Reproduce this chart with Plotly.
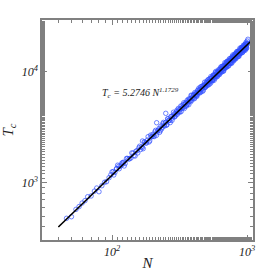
import plotly.graph_objects as go

# Sparse low-N points
N_low = [46, 50, 54, 57, 60, 63, 66, 70, 74, 77, 80, 84, 88, 91, 95, 98]
Tc_low = [478, 494, 575, 610, 656, 690, 748, 760, 840, 896, 830, 940, 1010, 1021, 1110, 1180]

# Dense region, series A
N_dense = list(range(100, 1001, 5))
Tc_dense = [
    1252, 1239, 1439, 1406, 1520, 1490, 1655, 1646, 1856, 1754,
    1920, 1858, 2132, 2105, 2027, 2323, 2283, 2600, 2384, 2586,
    2716, 2606, 2961, 2814, 2978, 2845, 3231, 3154, 3495, 3245,
    3494, 3331, 3766, 3668, 3487, 3945, 3834, 4315, 3914, 4202,
    4369, 4153, 4675, 4404, 4624, 4382, 4936, 4782, 5258, 4848,
    5185, 4911, 5518, 5342, 5048, 5679, 5488, 6141, 5542, 5918,
    6123, 5792, 6488, 6085, 6360, 6002, 6732, 6495, 7116, 6536,
    6963, 6570, 7355, 7095, 6682, 7493, 7217, 8050, 7242, 7709,
    7955, 7501, 8380, 7837, 8169, 7689, 8602, 8278, 9046, 8289,
    8809, 8293, 9263, 8915, 8377, 9374, 9009, 10029, 9004, 9567,
    9852, 9273, 10338, 9650, 10040, 9433, 10535, 10122, 11040, 10100,
    10716, 10071, 11232, 10792, 10126, 11312, 10857, 12068, 10819, 11479,
    11805, 11096, 12353, 11516, 11966, 11227, 12523, 12017, 13091, 11961,
    12677, 11900, 13255, 12722, 11923, 13306, 12755, 14162, 12683, 13442,
    13809, 12966, 14420, 13429, 13939, 13066, 14558, 13956, 15190, 13865,
    14681, 13768, 15323, 14693, 13757, 15340, 14693, 16300, 14585, 15446,
    15855, 14873, 16529, 15379, 15951, 14940, 16634, 15933, 17328, 15805,
    16722, 15671, 17428, 16699, 15625, 17410, 16665, 18476, 16520, 17483,
    17934,
]

# Dense region, series B
N_dense2 = list(range(103, 999, 5))
Tc_dense2 = [
    1175, 1344, 1336, 1447, 1416, 1656, 1633, 1672, 1849, 1741,
    1945, 2060, 1992, 2086, 2336, 2277, 2424, 2330, 2682, 2607,
    2630, 2872, 2670, 2947, 3086, 2951, 3060, 3396, 3281, 3461,
    3300, 3768, 3636, 3643, 3950, 3647, 4002, 4166, 3962, 4084,
    4507, 4332, 4549, 4317, 4906, 4712, 4700, 5075, 4666, 5098,
    5288, 5012, 5148, 5664, 5425, 5677, 5370, 6083, 5826, 5794,
    6238, 5721, 6236, 6450, 6096, 6245, 6852, 6548, 6837, 6451,
    7293, 6970, 6918, 7435, 6805, 7402, 7641, 7208, 7370, 8071,
    7700, 8026, 7563, 8535, 8143, 8070, 8659, 7912, 8594, 8858,
    8344, 8521, 9322, 8881, 9245, 8699, 9804, 9342, 9246, 9909,
    9044, 9812, 10103, 9507, 9697, 10596, 10084, 10486, 9855, 11096,
    10563, 10445, 11184, 10198, 11054, 11372, 10692, 10895, 11894, 11309,
    11749, 11035, 12415, 11809, 11668, 12482, 11373, 12318, 12662, 11893,
    12112, 13214, 12556, 13037, 12235, 13756, 13074, 12909, 13801, 12566,
    13601, 13972, 13116, 13349, 14553, 13819, 14338, 13448, 15110, 14353,
    14164, 15135, 13774, 14901, 15299, 14355, 14601, 15911, 15100, 15660,
    14680, 16486, 15653, 15438, 16488, 14997, 16215, 16639, 15604, 15863,
    17278, 16391, 16992, 15922, 17874, 16964, 16725, 17855, 16233, 17545,
]

# Extra points (cluster near N~100-120, outliers, top end)
N_extra = [102, 108, 112, 118, 122, 168, 214, 250, 1005, 1015]
Tc_extra = [1260, 1330, 1410, 1500, 1530, 2376, 3472, 4218, 18900, 19600]

N_all = N_low + N_dense + N_dense2 + N_extra
Tc_all = Tc_low + Tc_dense + Tc_dense2 + Tc_extra

# Fit line
fit_a = 5.2746
fit_b = 1.1729
N_fit = [40, 1100]
Tc_fit = [fit_a * n ** fit_b for n in N_fit]

FONT = "Liberation Serif"

fig = go.Figure()
fig.add_trace(go.Scatter(
    x=N_all, y=Tc_all, mode="markers",
    marker=dict(symbol="circle-open", size=4.5, color="rgba(50,80,255,0.7)",
                line=dict(width=1)),
    showlegend=False, hoverinfo="skip"))
fig.add_trace(go.Scatter(
    x=N_fit, y=Tc_fit, mode="lines",
    line=dict(color="black", width=1.6), showlegend=False, hoverinfo="skip"))

axis_common = dict(
    type="log", showgrid=False, zeroline=False, automargin=False,
    showline=True, linecolor="#808080", linewidth=1.5, mirror="allticks",
    ticks="inside", ticklen=5, tickcolor="#808080", tickwidth=1,
    minor=dict(ticks="inside", ticklen=3, tickcolor="#808080", tickwidth=1),
    tickfont=dict(family=FONT, size=12, color="#222"),
)

fig.update_xaxes(**axis_common, range=[1.481, 3.044],
                 tickvals=[100, 1000],
                 ticktext=["<i>10<sup>2</sup></i>", "<i>10<sup>3</sup></i>"],
                 title=dict(text="<i>N</i>", font=dict(family=FONT, size=15, color="#222"),
                            standoff=4))
fig.update_yaxes(**axis_common, range=[2.484, 4.466],
                 tickvals=[1000, 10000],
                 ticktext=["<i>10<sup>3</sup></i>", "<i>10<sup>4</sup></i>"],
                 title=dict(text="<i>T<sub>c</sub></i>", font=dict(family=FONT, size=15, color="#222"),
                            standoff=6))

fig.add_annotation(
    xref="paper", yref="paper", x=0.275, y=0.709,
    text="<i>T<sub>c</sub> = 5.2746 N<sup>1.1729</sup></i>",
    showarrow=False, font=dict(family=FONT, size=10, color="#222"))

fig.update_layout(
    width=280, height=271,
    margin=dict(l=42, r=27, t=20, b=31),
    paper_bgcolor="white", plot_bgcolor="white",
)

fig.write_html("out.html", config={"displayModeBar": False},
               post_script="document.body.style.margin='0';document.body.style.overflow='hidden';")
